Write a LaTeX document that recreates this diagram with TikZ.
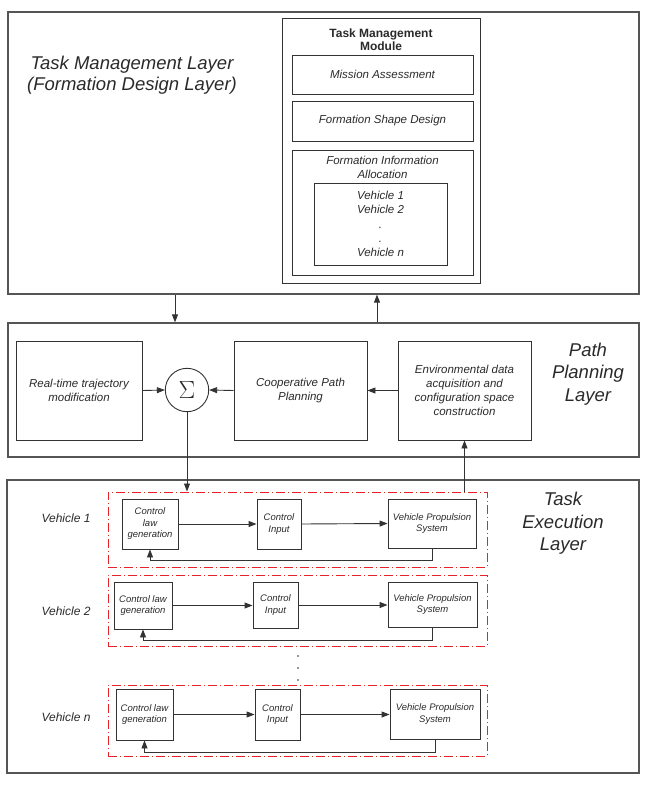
\documentclass[tikz,border=0pt]{standalone}
\usepackage{fontspec}
\setmainfont{Liberation Sans}
\usetikzlibrary{arrows.meta}
\definecolor{txt}{HTML}{2A2A2A}
\definecolor{ln}{HTML}{333333}
\definecolor{lay}{HTML}{555555}
\definecolor{rd}{HTML}{E8242B}
\tikzset{
  layer/.style={draw=lay, line width=1.2pt, rectangle, inner sep=0pt},
  blk/.style={draw=ln, line width=0.9pt, rectangle, inner sep=0pt, align=center, text=txt, font=\fontsize{11.5}{14}\selectfont\itshape},
  sblk/.style={draw=ln, line width=0.9pt, rectangle, inner sep=0pt, align=center, text=txt, font=\fontsize{9.5}{11.5}\selectfont\itshape},
  vehbox/.style={draw=rd, line width=1pt, rectangle, inner sep=0pt, dash pattern=on 9pt off 3pt on 1pt off 3pt},
  lbl/.style={align=center, text=txt, inner sep=0pt},
  arr/.style={draw=ln, line width=0.9pt, -{Triangle[length=8pt,width=6pt]}},
  pln/.style={draw=ln, line width=0.9pt}
}
\begin{document}
\begin{tikzpicture}[x=1pt,y=-1pt]
\useasboundingbox (0,0) rectangle (649,786);
% layers
\node[layer, minimum width=631pt, minimum height=282pt] (top) at (323.5,153) {};
\node[layer, minimum width=631pt, minimum height=134pt] (mid) at (323.5,390) {};
\node[layer, minimum width=632pt, minimum height=293pt] (bot) at (323,626.5) {};
% layer titles
\node[lbl, font=\fontsize{18.5}{21.5}\selectfont\itshape] (tml) at (132,75) {Task Management Layer\\(Formation Design Layer)};
\node[lbl, font=\fontsize{18.5}{22.5}\selectfont\itshape] (ppl) at (588,374) {Path\\Planning\\Layer};
\node[lbl, font=\fontsize{18.5}{22.5}\selectfont\itshape] (tel) at (563,523.5) {Task\\Execution\\Layer};
% task management module
\node[draw=ln, line width=0.9pt, minimum width=198pt, minimum height=265pt, inner sep=0pt] (mod) at (381,150.5) {};
\node[lbl, font=\fontsize{12}{13.5}\selectfont\bfseries] (modt) at (381,39.5) {Task Management\\Module};
\node[blk, minimum width=181pt, minimum height=39pt] (mis) at (382.5,74.5) {Mission Assessment};
\node[blk, minimum width=181pt, minimum height=40pt] (fsd) at (382.5,121) {Formation Shape Design};
\node[blk, minimum width=181pt, minimum height=125pt] (fia) at (382.5,212.5) {};
\node[lbl, font=\fontsize{11.5}{14}\selectfont\itshape] (fiat) at (382.5,167) {Formation Information\\Allocation};
\node[blk, minimum width=133pt, minimum height=82pt, font=\fontsize{11.5}{14.25}\selectfont\itshape] (vl) at (380.5,224) {Vehicle 1\\Vehicle 2\\.\\.\\Vehicle n};
% path planning layer
\node[blk, minimum width=126pt, minimum height=99pt] (rtm) at (79,390.5) {Real-time trajectory\\modification};
\node[draw=ln, line width=0.9pt, circle, minimum size=43.4pt, inner sep=0pt, text=txt] (sig) at (187,390) {\fontsize{27}{28}\selectfont$\Sigma$};
\node[blk, minimum width=133pt, minimum height=99pt] (cpp) at (300.5,390.5) {Cooperative Path\\Planning};
\node[blk, minimum width=133pt, minimum height=99pt] (env) at (464.5,390.5) {Environmental data\\acquisition and\\configuration space\\construction};
\draw[arr] (rtm.east) -- (sig.west);
\draw[arr] (cpp.west) -- (sig.east);
\draw[arr] (env.west) -- (cpp.east);
% between layers
\coordinate (c1) at (175,0);
\coordinate (c2) at (377,0);
\draw[arr] (c1 |- top.south) -- (c1 |- mid.north);
\draw[arr] (c2 |- mid.north) -- (c2 |- top.south);
% vehicle boxes
\node[vehbox, minimum width=379pt, minimum height=75pt] (veh1) at (297.5,529.5) {};
\node[vehbox, minimum width=379pt, minimum height=71pt] (veh2) at (297.5,610.5) {};
\node[vehbox, minimum width=379pt, minimum height=71pt] (vehn) at (297.5,720.5) {};
\draw[arr] (sig.south) -- (sig.south |- veh1.north);
\draw[arr] (env.south |- veh1.north) -- (env.south);
% vehicle labels
\node[lbl, font=\fontsize{12}{14}\selectfont\itshape] (v1l) at (66,518) {Vehicle 1};
\node[lbl, font=\fontsize{12}{14}\selectfont\itshape] (v2l) at (66,611) {Vehicle 2};
\node[lbl, font=\fontsize{12}{14}\selectfont\itshape] (vnl) at (66,717) {Vehicle n};
% vehicle 1
\node[sblk, minimum width=56pt, minimum height=50pt] (clg1) at (150,524) {Control\\law\\generation};
\node[sblk, minimum width=44pt, minimum height=50pt] (ci1) at (279,524) {Control\\Input};
\node[sblk, minimum width=88pt, minimum height=49pt] (vps1) at (432,523.5) {Vehicle Propulsion\\System};
\draw[arr] (clg1.east) -- (ci1.west);
\draw[arr] (ci1.east) -- (vps1.west);
\draw[arr] (vps1.south) -- ++(0,12) -| (clg1.south);
% vehicle 2
\node[sblk, minimum width=58pt, minimum height=47pt] (clg2) at (143,605.5) {Control law\\generation};
\node[sblk, minimum width=45pt, minimum height=46pt] (ci2) at (275.5,605) {Control\\Input};
\node[sblk, minimum width=89pt, minimum height=45pt] (vps2) at (432.5,604.5) {Vehicle Propulsion\\System};
\draw[arr] (clg2.east) -- (clg2.east -| ci2.west);
\draw[arr] (ci2.east) -- (ci2.east -| vps2.west);
\draw[arr] (vps2.south) -- ++(0,13) -| (clg2.south);
% dots
\fill[txt] (298,656) circle (0.9);
\fill[txt] (298,668) circle (0.9);
\fill[txt] (298,680) circle (0.9);
% vehicle n
\node[sblk, minimum width=57pt, minimum height=51pt] (clgn) at (144.5,714.5) {Control law\\generation};
\node[sblk, minimum width=45pt, minimum height=51pt] (cin) at (277.5,714.5) {Control\\Input};
\node[sblk, minimum width=90pt, minimum height=50pt] (vpsn) at (435,714) {Vehicle Propulsion\\System};
\draw[arr] (clgn.east) -- (cin.west);
\draw[arr] (cin.east) -- (cin.east -| vpsn.west);
\draw[arr] (vpsn.south) -- ++(0,13) -| (clgn.south);
\end{tikzpicture}
\end{document}
